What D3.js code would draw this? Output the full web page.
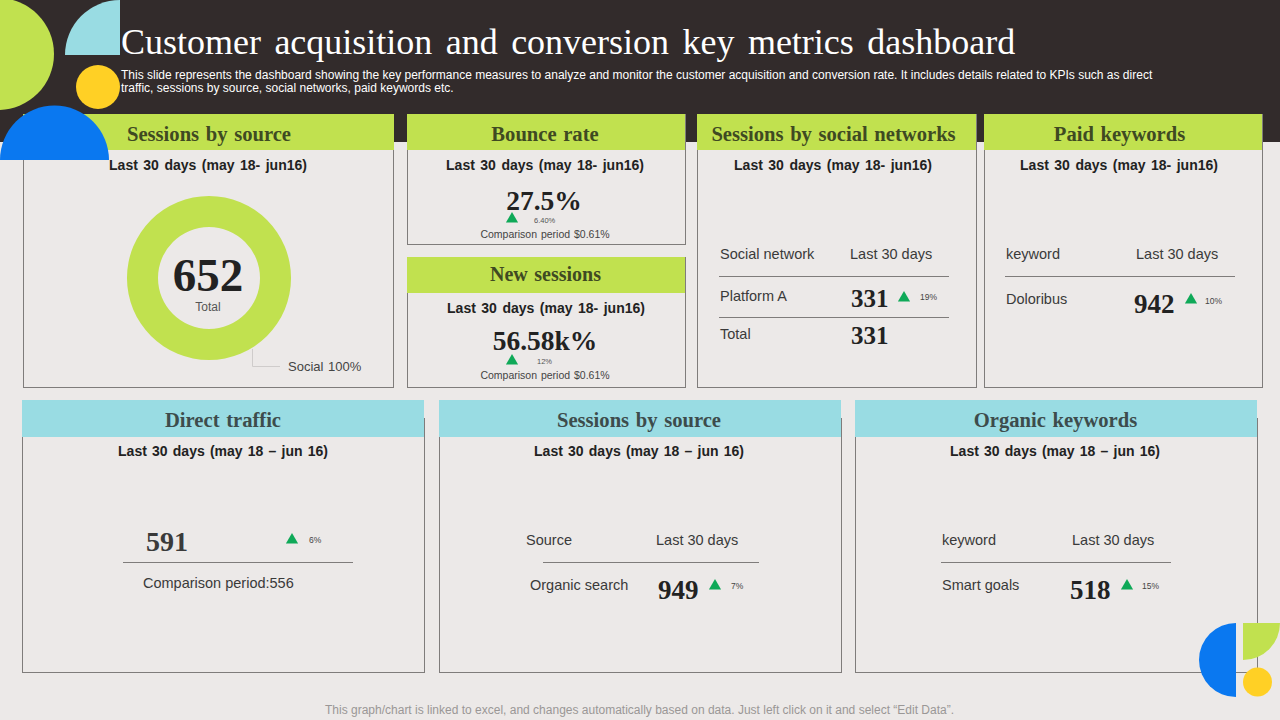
<!DOCTYPE html>
<html><head><meta charset="utf-8">
<script src="https://cdn.jsdelivr.net/npm/d3@7/dist/d3.min.js"></script>
<style>html,body{margin:0;padding:0;background:#ECE9E8;overflow:hidden}svg{display:block}
.sans{font-family:"Liberation Sans",Arial,sans-serif}.serif{font-family:"Liberation Serif","Times New Roman",serif}</style>
</head><body><svg id="c" width="1280" height="720"></svg>
<script>
// ---- data ----
const titleText = "Customer acquisition and conversion key metrics dashboard";
const subtitleLines = ["This slide represents the dashboard showing the key performance measures to analyze and monitor the customer acquisition and conversion rate. It includes details related to KPIs such as direct","traffic, sessions by source, social networks, paid keywords etc."];
const footerText = "This graph/chart is linked to excel, and changes automatically based on data. Just left click on it and select “Edit Data”.";
const periodShort = "Last 30 days (may 18- jun16)";
const periodLong = "Last 30 days (may 18 – jun 16)";
const greenPanelTitles = ["Sessions by source","Bounce rate","New sessions","Sessions by social networks","Paid keywords"];
const bluePanelTitles = ["Direct traffic","Sessions by source","Organic keywords"];
const donutCategories = ["Social"];
const donutValues = [100];
const donutTotal = 652;
const bounceValue = "27.5%", bounceDelta = "6.40%", comparisonText = "Comparison period $0.61%";
const newSessionsValue = "56.58k%", newSessionsDelta = "12%";
const socialRow = ["Platform A", 331, "19%"], socialTotal = ["Total", 331];
const paidRow = ["Doloribus", 942, "10%"];
const directRow = [591, "6%"], directComparison = "Comparison period:556";
const sourceRow = ["Organic search", 949, "7%"];
const organicRow = ["Smart goals", 518, "15%"];

// ---- helpers ----
const C={dark:"#322B2B",bg:"#ECE9E8",green:"#C1E14F",blue:"#99DCE3",yellow:"#FFD025",royal:"#0A78F0",line:"#7F7C7B",tri:"#0FA958",ink:"#222",head:"#3F4A22",headB:"#3D4C4C",body:"#3a3a3a"};
const svg=d3.select("#c");
function T(x,y,s,size,o={}){return svg.append("text").attr("x",x).attr("y",y).text(s)
 .attr("class",o.serif?"serif":"sans").attr("font-size",size).attr("fill",o.fill||C.body)
 .attr("font-weight",o.bold?"bold":"normal").attr("text-anchor",o.anchor||"start")
 .attr("word-spacing",o.ws||0).attr("letter-spacing",o.ls||0);}
function L(x1,x2,y,c=C.line){svg.append("line").attr("x1",x1).attr("x2",x2).attr("y1",y+.5).attr("y2",y+.5).attr("stroke",c).attr("stroke-width",1);}
const triPath=d3.symbol().type(d3.symbolTriangle).size(64);
function Tri(x,y){svg.append("path").attr("d",triPath()).attr("transform",`translate(${x},${y})`).attr("fill",C.tri);}
function panel(x,y,w,h,hw,hh,color,title,size,tx,ty,period,px,py){
 const isB=color===C.blue, top=y-(isB?18:0);
 svg.append("rect").attr("x",x+.5).attr("y",y+.5).attr("width",w).attr("height",h).attr("fill",C.bg).attr("stroke",C.line);
 svg.append("rect").attr("x",x).attr("y",top).attr("width",hw).attr("height",hh).attr("fill",color);
 T(tx,ty,title,size,{serif:1,bold:1,fill:isB?C.headB:C.head,anchor:"middle",ws:1.5});
 T(px,py,period,14,{bold:1,fill:C.ink,anchor:"middle",ws:isB?1.3:1.6});
}

// ---- banner ----
svg.append("rect").attr("width",1280).attr("height",142).attr("fill",C.dark);
svg.append("rect").attr("y",142).attr("width",1280).attr("height",578).attr("fill",C.bg);
T(121,54,titleText,36,{serif:1,fill:"#fff",ws:4.4});
subtitleLines.forEach((s,i)=>T(121,79+i*13,s,12,{fill:"#fff"}));

// ---- panels ----
const G=greenPanelTitles,B=bluePanelTitles;
panel(23,114,370,273,371,36,C.green,G[0],20.6,209,141,periodShort,208,170);
panel(407,114,278,130,278,36,C.green,G[1],20.6,545,141,periodShort,545,170);
panel(407,257,278,130,278,36,C.green,G[2],20,545.5,281,periodShort,546,313);
panel(697,114,279,273,279,36,C.green,G[3],20.6,833.5,141,periodShort,833,170);
panel(984,114,278,273,278,36,C.green,G[4],20.6,1119.5,141,periodShort,1119,170);
panel(22,418,402,254,402,37,C.blue,B[0],20.6,223,427,periodLong,223,456);
panel(439,418,402,254,402,37,C.blue,B[1],20.6,639,427,periodLong,639,456);
panel(855,418,402,254,402,37,C.blue,B[2],20.6,1055.5,427,periodLong,1055,456);

// ---- donut ----
const donut=svg.append("g").attr("transform","translate(209,278)");
const pie=d3.pie().sort(null)(donutValues);
const arc=d3.arc().innerRadius(51).outerRadius(82);
donut.selectAll("path").data(pie).join("path").attr("d",arc).attr("fill",C.green);
T(208,291,String(donutTotal),47,{serif:1,bold:1,fill:C.ink,anchor:"middle"});
T(208,311,"Total",12,{anchor:"middle",fill:"#555"});
svg.append("path").attr("d","M252.5 349V366.5H280").attr("fill","none").attr("stroke","#cfcccb");
T(288,371,`${donutCategories[0]} ${donutValues[0]}%`,13,{fill:"#444",ws:1});

// ---- bounce / new sessions ----
T(544,210,bounceValue,27.5,{serif:1,bold:1,fill:C.ink,anchor:"middle"});
Tri(512,219);T(534,223,bounceDelta,7.5,{fill:"#555"});
T(545,238,comparisonText,10.5,{anchor:"middle",fill:"#444",ws:1});
T(545,350,newSessionsValue,27.5,{serif:1,bold:1,fill:C.ink,anchor:"middle"});
Tri(512,361);T(537,364,newSessionsDelta,7.5,{fill:"#555"});
T(545,379,comparisonText,10.5,{anchor:"middle",fill:"#444",ws:1});

// ---- tables ----
const big={serif:1,bold:1,fill:C.ink};
function heads(x1,x2,y,a,b){T(x1,y,a,14.5);T(x2,y,b,14.5);}
heads(720,850,259,"Social network","Last 30 days");L(719,949,276);
T(720,301,socialRow[0],14.5);T(851,307,socialRow[1],25,big);Tri(904,298);T(920,300,socialRow[2],8.5,{fill:"#444"});
L(719,949,317);
T(720,339,socialTotal[0],14.5);T(851,344,socialTotal[1],25,big);

heads(1006,1136,259,"keyword","Last 30 days");L(1005,1235,276);
T(1006,304,paidRow[0],14.5);T(1134,313,paidRow[1],27,big);Tri(1191,300);T(1205,304,paidRow[2],8.5,{fill:"#444"});

T(146,551,directRow[0],28,{serif:1,bold:1,fill:"#3a3a3a"});Tri(292,540);T(309,543,directRow[1],8.5,{fill:"#444"});
L(123,353,562);T(143,588,directComparison,14.5);

heads(526,656,545,"Source","Last 30 days");L(543,759,562);
T(530,590,sourceRow[0],14.5);T(658,599,sourceRow[1],27,big);Tri(715,586);T(731,589,sourceRow[2],8.5,{fill:"#444"});

heads(942,1072,545,"keyword","Last 30 days");L(941,1171,562);
T(942,590,organicRow[0],14.5);T(1070,599,organicRow[1],27,big);Tri(1127,586);T(1142,589,organicRow[2],8.5,{fill:"#444"});

T(639.5,714,footerText,12,{anchor:"middle",fill:"#9a9796"});

// ---- decoration ----
svg.append("circle").attr("cx",-2).attr("cy",54).attr("r",56).attr("fill",C.green);
svg.append("path").attr("d","M65 55A55 55 0 0 1 120 0V55Z").attr("fill",C.blue);
svg.append("circle").attr("cx",98).attr("cy",87).attr("r",22).attr("fill",C.yellow);
svg.append("path").attr("d","M0 160A54.5 54.5 0 0 1 109 160Z").attr("fill",C.royal);
svg.append("path").attr("d","M1236 623A37 37 0 0 0 1236 697Z").attr("fill",C.royal);
svg.append("path").attr("d","M1243 623H1280A37 37 0 0 1 1243 660Z").attr("fill",C.green);
svg.append("circle").attr("cx",1257.5).attr("cy",682).attr("r",14.5).attr("fill",C.yellow);
</script></body></html>
